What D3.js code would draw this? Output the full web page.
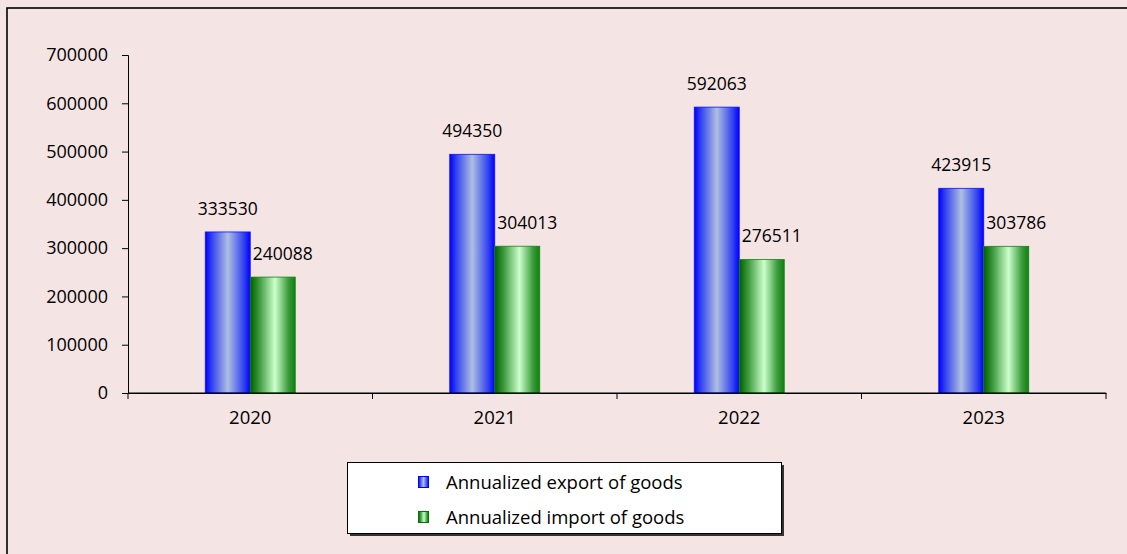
<!DOCTYPE html>
<html><head><meta charset="utf-8">
<script src="https://cdn.jsdelivr.net/npm/d3@7"></script>
<style>
body{margin:0;background:#f5e4e4;}
svg{display:block;font-family:"Open Sans",Lato,sans-serif;}
</style></head>
<body>
<svg id="c" width="1127" height="554"></svg>
<script>
const years = ["2020","2021","2022","2023"];
const seriesNames = ["Annualized export of goods","Annualized import of goods"];
const exportVals = [333530,494350,592063,423915];
const importVals = [240088,304013,276511,303786];
const yTicks = [0,100000,200000,300000,400000,500000,600000,700000];

const FONT = "'Open Sans',Lato,sans-serif";
const svg = d3.select("#c");
const W=1127,H=554;
svg.append("rect").attr("width",W).attr("height",H).attr("fill","#f5e4e4");
svg.append("rect").attr("x",7).attr("y",8).attr("width",1300).attr("height",700)
  .attr("fill","none").attr("stroke","#000").attr("stroke-width",1.6);

const defs = svg.append("defs");
function grad(id, stops){
  const g = defs.append("linearGradient").attr("id",id).attr("x1","0%").attr("x2","100%").attr("y1","0%").attr("y2","0%");
  stops.forEach(s=>g.append("stop").attr("offset",s[0]).attr("stop-color",s[1]));
}
grad("gb",[["0%","#0000ff"],["15%","#3344f0"],["50%","#aebfe2"],["85%","#3344f0"],["100%","#0000ff"]]);
grad("gg",[["0%","#005c00"],["20%","#3c9a3c"],["55%","#ccffcc"],["85%","#3a9a3a"],["100%","#0e800e"]]);

const x0 = 128, x1 = 1106, yb = 393, yt = 55;
const x = d3.scaleBand().domain(years).range([x0,x1]).padding(0);
const y = d3.scaleLinear().domain([0,700000]).range([yb,yt]);
const groupW = 90;
const xs = d3.scaleBand().domain(["e","i"]).range([0,groupW]);
const off = (x.bandwidth()-groupW)/2;

// axes
const yAxis = d3.axisLeft(y).tickValues(yTicks).tickSize(6).tickPadding(14).tickFormat(d3.format("d"));
const gy = svg.append("g").attr("transform",`translate(${x0},0)`).call(yAxis);
gy.attr("font-size",null).attr("font-family",null);
gy.selectAll("text").attr("font-size",18).attr("fill","#000").attr("font-family",FONT);
gy.selectAll("line,path").attr("stroke","#000");

const xAxis = d3.axisBottom(x).tickSize(0).tickPadding(18);
const gx = svg.append("g").attr("transform",`translate(0,${yb})`).call(xAxis);
gx.attr("font-size",null).attr("font-family",null);
gx.select(".domain").attr("stroke","#000");
gx.selectAll("text").attr("font-size",18.5).attr("fill","#000").attr("font-family",FONT);
// boundary ticks
const bounds = years.map(d=>x(d)).concat([x1]);
svg.append("g").selectAll("line").data(bounds).join("line")
  .attr("x1",d=>d).attr("x2",d=>d).attr("y1",yb).attr("y2",yb+6).attr("stroke","#000");

const data = years.map((yr,i)=>({yr, e:exportVals[i], im:importVals[i]}));
const bars = svg.append("g").attr("font-family",FONT);
data.forEach(d=>{
  const bx = x(d.yr)+off;
  bars.append("rect").attr("x",bx+xs("e")).attr("y",y(d.e)).attr("width",xs.bandwidth()).attr("height",yb-y(d.e))
    .attr("fill","url(#gb)").attr("stroke","#1010ff").attr("stroke-width",0.8);
  bars.append("rect").attr("x",bx+xs("i")).attr("y",y(d.im)).attr("width",xs.bandwidth()).attr("height",yb-y(d.im))
    .attr("fill","url(#gg)").attr("stroke","#118811").attr("stroke-width",0.8);
  bars.append("text").attr("x",bx+xs("e")+xs.bandwidth()/2).attr("y",y(d.e)-17).attr("text-anchor","middle")
    .attr("font-size",17.5).attr("fill","#000").text(d.e);
  bars.append("text").attr("x",bx+xs("i")+xs.bandwidth()/2+10).attr("y",y(d.im)-17).attr("text-anchor","middle")
    .attr("font-size",17.5).attr("fill","#000").text(d.im);
});
svg.append("line").attr("x1",x0).attr("x2",x1).attr("y1",yb).attr("y2",yb).attr("stroke","#000");

// legend
const lg = svg.append("g").attr("font-family",FONT);
lg.append("rect").attr("x",350).attr("y",465).attr("width",434).attr("height",71).attr("fill","#333");
lg.append("rect").attr("x",347.5).attr("y",462.5).attr("width",434).attr("height",71).attr("fill","#fff").attr("stroke","#000").attr("stroke-width",1);
const items = [{n:seriesNames[0],f:"url(#gb)",s:"#0000ff"},{n:seriesNames[1],f:"url(#gg)",s:"#007700"}];
items.forEach((it,i)=>{
  const cy = 482+i*35;
  lg.append("rect").attr("x",418.5).attr("y",cy-5.5).attr("width",10).attr("height",11).attr("fill",it.f).attr("stroke",it.s).attr("stroke-width",1);
  lg.append("text").attr("x",446).attr("y",cy+6.5).attr("font-size",18.5).attr("fill","#000").text(it.n);
});
</script>
</body></html>
